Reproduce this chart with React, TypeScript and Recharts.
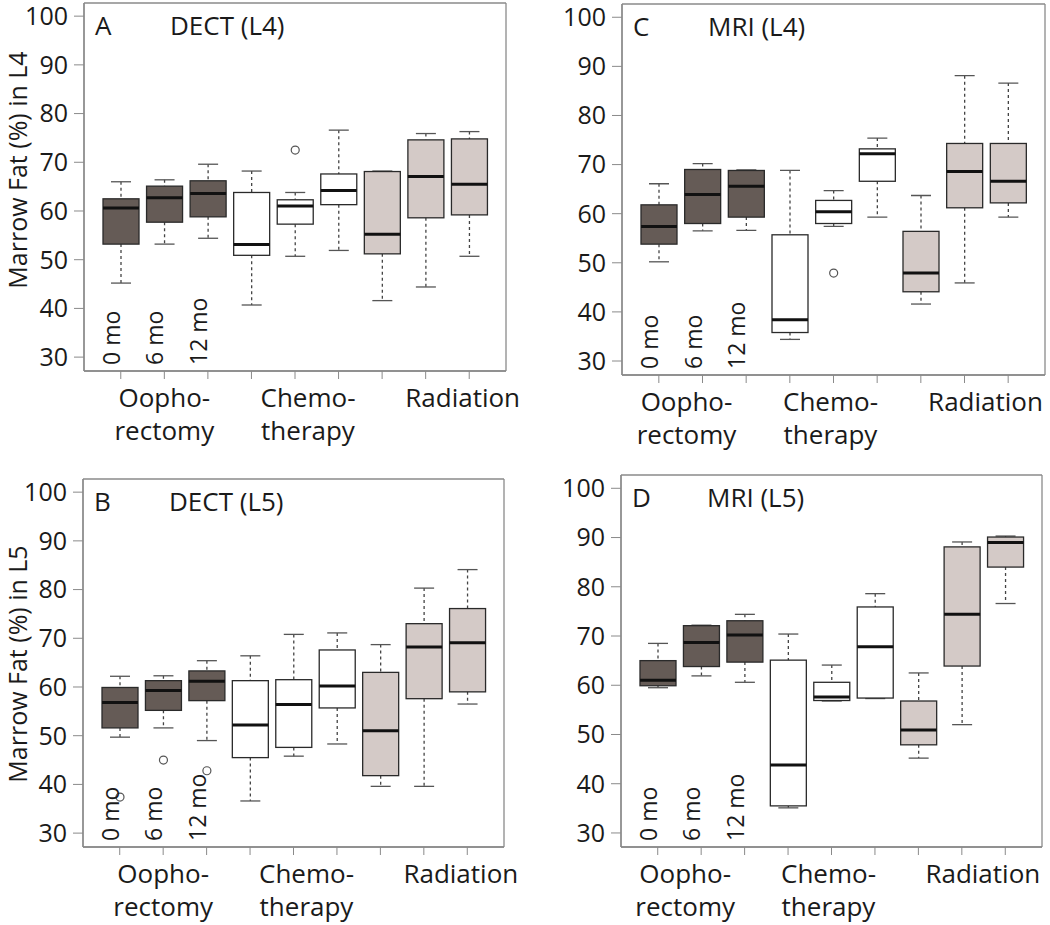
import { ComposedChart, Bar, XAxis, YAxis, CartesianGrid } from "recharts";

const categories = ["oo0", "oo6", "oo12", "ch0", "ch6", "ch12", "ra0", "ra6", "ra12"];
const timeLabels = ["0 mo", "6 mo", "12 mo"];
const groupLabels = [["Oopho-", "rectomy"], ["Chemo-", "therapy"], ["Radiation"]];
const yTicks = [30, 40, 50, 60, 70, 80, 90, 100];

// A: DECT (L4)
const dectL4Low = [45.2, 53.2, 54.4, 40.7, 50.7, 51.9, 41.6, 44.4, 50.7];
const dectL4Q1 = [53.2, 57.7, 58.8, 50.9, 57.3, 61.3, 51.2, 58.6, 59.2];
const dectL4Median = [60.6, 62.7, 63.6, 53.1, 61.0, 64.2, 55.2, 67.1, 65.5];
const dectL4Q3 = [62.5, 65.1, 66.2, 63.8, 62.3, 67.6, 68.1, 74.6, 74.8];
const dectL4High = [66.0, 66.4, 69.6, 68.2, 63.8, 76.6, 68.2, 75.9, 76.3];
const dectL4Outliers = [[], [], [], [], [72.5], [], [], [], []];

// B: DECT (L5)
const dectL5Low = [49.7, 51.6, 49.0, 36.6, 45.8, 48.3, 39.6, 39.6, 56.5];
const dectL5Q1 = [51.6, 55.2, 57.2, 45.5, 47.6, 55.7, 41.8, 57.6, 59.0];
const dectL5Median = [56.8, 59.3, 61.2, 52.2, 56.4, 60.2, 51.0, 68.2, 69.1];
const dectL5Q3 = [59.9, 61.3, 63.3, 61.3, 61.5, 67.6, 63.0, 73.0, 76.1];
const dectL5High = [62.2, 62.3, 65.4, 66.4, 70.8, 71.1, 68.7, 80.3, 84.1];
const dectL5Outliers = [[37.4], [45.0], [42.8], [], [], [], [], [], []];

// C: MRI (L4)
const mriL4Low = [50.2, 56.5, 56.6, 34.4, 57.4, 59.3, 41.6, 45.9, 59.3];
const mriL4Q1 = [53.8, 58.0, 59.3, 35.8, 58.0, 66.6, 44.1, 61.2, 62.2];
const mriL4Median = [57.4, 63.9, 65.6, 38.4, 60.4, 72.2, 47.9, 68.6, 66.6];
const mriL4Q3 = [61.8, 69.0, 68.8, 55.7, 62.7, 73.2, 56.4, 74.3, 74.3];
const mriL4High = [66.1, 70.2, 68.9, 68.8, 64.7, 75.4, 63.7, 88.1, 86.6];
const mriL4Outliers = [[], [], [], [], [47.9], [], [], [], []];

// D: MRI (L5)
const mriL5Low = [59.5, 61.9, 60.6, 35.1, 56.8, 57.3, 45.2, 52.0, 76.6];
const mriL5Q1 = [59.9, 63.8, 64.7, 35.5, 56.9, 57.4, 47.9, 63.9, 84.0];
const mriL5Median = [61.0, 68.7, 70.2, 43.8, 57.6, 67.8, 50.9, 74.4, 89.0];
const mriL5Q3 = [65.0, 72.1, 73.1, 65.1, 60.6, 75.9, 56.8, 88.1, 90.1];
const mriL5High = [68.5, 72.2, 74.4, 70.4, 64.1, 78.6, 62.5, 89.1, 90.3];
const mriL5Outliers = [[], [], [], [], [], [], [], [], []];

const FONT = "'Open Sans', 'Noto Sans', sans-serif";
const INK = "#1a1a1a";
const FRAME = "#8a8a8a";
const boxFills = ["#655b56", "#ffffff", "#d4cac7"];
const groupOffsets = [0, 13, 37];
const TICK_SIZE = 8;
const TICK_MARGIN = 2;
const TOP_PAD = 20;
const RIGHT_PAD = 60;

const buildRows = (
  lo: number[],
  q1: number[],
  med: number[],
  q3: number[],
  hi: number[],
  out: number[][]
) =>
  categories.map((cat, i) => ({
    cat,
    group: Math.floor(i / 3),
    range: [lo[i], hi[i]],
    lo: lo[i],
    q1: q1[i],
    med: med[i],
    q3: q3[i],
    hi: hi[i],
    out: out[i],
  }));

const BoxShape = (props: any) => {
  const { x, y, width, height, payload } = props;
  if (!payload) return null;
  const top = Math.min(y, y + height);
  const bottom = Math.max(y, y + height);
  const span = payload.hi - payload.lo;
  const py = (v: number) => bottom - ((v - payload.lo) * (bottom - top)) / span;
  const cx = x + width / 2;
  const capHalf = 10;
  return (
    <g>
      <line x1={cx} x2={cx} y1={py(payload.hi)} y2={py(payload.q3)} stroke="#444" strokeWidth={1.3} strokeDasharray="3 3" />
      <line x1={cx} x2={cx} y1={py(payload.q1)} y2={py(payload.lo)} stroke="#444" strokeWidth={1.3} strokeDasharray="3 3" />
      <line x1={cx - capHalf} x2={cx + capHalf} y1={py(payload.hi)} y2={py(payload.hi)} stroke="#555" strokeWidth={1.3} />
      <line x1={cx - capHalf} x2={cx + capHalf} y1={py(payload.lo)} y2={py(payload.lo)} stroke="#555" strokeWidth={1.3} />
      <rect
        x={x}
        y={py(payload.q3)}
        width={width}
        height={py(payload.q1) - py(payload.q3)}
        fill={boxFills[payload.group]}
        stroke="#2a2a2a"
        strokeWidth={1.3}
      />
      <line x1={x} x2={x + width} y1={py(payload.med)} y2={py(payload.med)} stroke="#111" strokeWidth={3} />
      {payload.out.map((v: number, k: number) => (
        <circle key={k} cx={cx} cy={py(v)} r={4} fill="#fff" stroke="#555" strokeWidth={1.2} />
      ))}
    </g>
  );
};

const GroupTick = (props: any) => {
  const { x, y, index, shift } = props;
  const axisY = y - TICK_SIZE - TICK_MARGIN;
  const gi = [1, 4, 7].indexOf(index);
  return (
    <g>
      {index < 3 && (
        <text
          transform={`translate(${x - 1},${axisY - 6}) rotate(-90)`}
          textAnchor="start"
          fontSize={23}
          fontFamily={FONT}
          fill={INK}
        >
          {timeLabels[index]}
        </text>
      )}
      {gi >= 0 &&
        groupLabels[gi].map((line, k) => (
          <text
            key={k}
            x={x + shift + groupOffsets[gi]}
            y={axisY + 36 + k * 33}
            textAnchor="middle"
            fontSize={26}
            fontFamily={FONT}
            fill={INK}
          >
            {line}
          </text>
        ))}
    </g>
  );
};

interface PanelProps {
  rows: any[];
  plotLeft: number;
  plotTop: number;
  plotW: number;
  plotH: number;
  shift: number;
}

const BoxPanel = ({ rows, plotLeft, plotTop, plotW, plotH, shift }: PanelProps) => {
  const domain: [number, number] = [27.15, 102.7];
  return (
    <div style={{ position: "absolute", left: plotLeft - 84, top: plotTop - TOP_PAD }}>
      <ComposedChart
        width={84 + plotW + RIGHT_PAD}
        height={TOP_PAD + plotH + 90}
        data={rows}
        margin={{ top: TOP_PAD, right: RIGHT_PAD, bottom: 0, left: 0 }}
      >
        <CartesianGrid
          stroke={FRAME}
          strokeWidth={1.3}
          strokeDasharray=""
          horizontalCoordinatesGenerator={({ offset }: any) => [offset.top, offset.top + offset.height]}
          verticalCoordinatesGenerator={({ offset }: any) => [offset.left, offset.left + offset.width]}
        />
        <XAxis
          dataKey="cat"
          height={90}
          padding={{ left: 15, right: 15 }}
          interval={0}
          tickSize={TICK_SIZE}
          tickMargin={TICK_MARGIN}
          tickLine={{ stroke: FRAME }}
          axisLine={{ stroke: FRAME, strokeWidth: 1.3 }}
          tick={<GroupTick shift={shift} />}
        />
        <YAxis
          type="number"
          domain={domain}
          allowDataOverflow
          ticks={yTicks}
          width={84}
          tickSize={10}
          tickMargin={6}
          tick={{ fontSize: 25, fill: INK, fontFamily: FONT }}
          tickLine={{ stroke: FRAME }}
          axisLine={{ stroke: FRAME, strokeWidth: 1.3 }}
        />
        <Bar dataKey="range" barSize={36} shape={<BoxShape />} isAnimationActive={false} />
      </ComposedChart>
    </div>
  );
};

const panels = [
  { letter: "A", title: "DECT (L4)", plotLeft: 84, plotTop: 3, plotW: 422, plotH: 368, shift: 0,
    rows: buildRows(dectL4Low, dectL4Q1, dectL4Median, dectL4Q3, dectL4High, dectL4Outliers) },
  { letter: "B", title: "DECT (L5)", plotLeft: 83, plotTop: 479, plotW: 421, plotH: 368, shift: 0,
    rows: buildRows(dectL5Low, dectL5Q1, dectL5Median, dectL5Q3, dectL5High, dectL5Outliers) },
  { letter: "C", title: "MRI (L4)", plotLeft: 622, plotTop: 4, plotW: 423, plotH: 371, shift: -16,
    rows: buildRows(mriL4Low, mriL4Q1, mriL4Median, mriL4Q3, mriL4High, mriL4Outliers) },
  { letter: "D", title: "MRI (L5)", plotLeft: 621, plotTop: 475, plotW: 421, plotH: 372, shift: -16,
    rows: buildRows(mriL5Low, mriL5Q1, mriL5Median, mriL5Q3, mriL5High, mriL5Outliers) },
];

const yLabels = [
  { text: "Marrow Fat (%) in L4", cy: 170 },
  { text: "Marrow Fat (%) in L5", cy: 664 },
];

export default function App() {
  return (
    <div
      style={{
        position: "absolute",
        left: 0,
        top: 0,
        width: 1050,
        height: 925,
        background: "#ffffff",
        overflow: "hidden",
        fontFamily: FONT,
      }}
    >
      {panels.map((p) => (
        <BoxPanel key={p.letter} {...p} />
      ))}
      <svg
        width={1050}
        height={925}
        style={{ position: "absolute", left: 0, top: 0, pointerEvents: "none" }}
      >
        {panels.map((p) => (
          <g key={p.letter} fontFamily={FONT} fontSize={26} fill={INK}>
            <text x={p.plotLeft + 11} y={p.plotTop + 32}>{p.letter}</text>
            <text x={p.plotLeft + 86} y={p.plotTop + 32}>{p.title}</text>
          </g>
        ))}
        {yLabels.map((l) => (
          <text
            key={l.text}
            transform={`translate(27,${l.cy}) rotate(-90)`}
            textAnchor="middle"
            fontFamily={FONT}
            fontSize={25}
            fill={INK}
          >
            {l.text}
          </text>
        ))}
      </svg>
    </div>
  );
}
